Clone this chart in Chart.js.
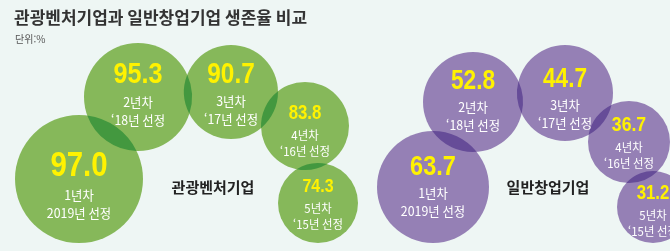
<!DOCTYPE html>
<html lang="ko">
<head>
<meta charset="UTF-8">
<title>관광벤처기업과 일반창업기업 생존율 비교</title>
<script src="https://cdn.jsdelivr.net/npm/chart.js"></script>
<style>
  html, body { margin: 0; padding: 0; background: #eef6f4; }
  #wrap { position: relative; width: 670px; height: 251px; }
  canvas { display: block; }
</style>
</head>
<body>
<div id="wrap"><canvas id="bubbles" width="670" height="251"></canvas></div>
<script>
// survival rate (%) by year since selection
const groups = ['관광벤처기업', '일반창업기업'];
const yearLabels = ['1년차', '2년차', '3년차', '4년차', '5년차'];
const cohortLabels = ['2019년 선정', '‘18년 선정', '‘17년 선정', '‘16년 선정', '‘15년 선정'];
const ventureRates = [97.0, 95.3, 90.7, 83.8, 74.3];
const startupRates = [63.7, 52.8, 44.7, 36.7, 31.2];

// bubble layout (picture is a free arrangement, not a plotted axis)
const ventureX = [79, 138, 231, 305, 318];
const ventureY = [179, 97, 92, 126, 203];
const ventureR = [64, 54, 47, 44, 40];
const startupX = [433, 473, 565, 629, 653];
const startupY = [187, 102, 93, 142, 207];
const startupR = [56, 50, 48, 41, 36];

// label styling per bubble: value font size, value offset from centre
const ventureFont = [35, 30, 29, 20, 19];
const ventureShift = [-13, -22, -17, -13, -16];
const startupFont = [28, 27, 27, 21, 20];
const startupShift = [-20, -20, -13, -17, -14];

const fillColors = ['#86b85a', '#9580b5'];
const overlapColors = ['#43983f', '#664c98'];
const radii = [ventureR, startupR];

function points(xs, ys, rs) {
    return xs.map((x, i) => ({ x: x, y: ys[i], r: rs[i] }));
}

// lens shaped region shared by two circles
function lens(ctx, ax, ay, ar, bx, by, br) {
    const dx = bx - ax, dy = by - ay;
    const d = Math.sqrt(dx * dx + dy * dy);
    if (d >= ar + br || d <= Math.abs(ar - br)) return false;
    const ta = Math.atan2(dy, dx);
    const tb = ta + Math.PI;
    const aa = Math.acos((d * d + ar * ar - br * br) / (2 * d * ar));
    const ab = Math.acos((d * d + br * br - ar * ar) / (2 * d * br));
    ctx.beginPath();
    ctx.arc(ax, ay, ar, ta - aa, ta + aa);
    ctx.arc(bx, by, br, tb - ab, tb + ab);
    ctx.closePath();
    return true;
}

// darker lens where two bubbles of one group overlap
const overlapPlugin = {
    id: 'overlap',
    afterDatasetsDraw(chart) {
        const ctx = chart.ctx;
        ctx.save();
        for (let d = 0; d < 2; d++) {
            const els = chart.getDatasetMeta(d).data;
            const rs = radii[d];
            ctx.fillStyle = overlapColors[d];
            for (let i = 0; i < els.length; i++) {
                for (let j = i + 1; j < els.length; j++) {
                    if (lens(ctx, els[i].x, els[i].y, rs[i], els[j].x, els[j].y, rs[j])) {
                        ctx.fill();
                    }
                }
            }
        }
        ctx.restore();
    }
};

// condensed text: squeeze horizontally around the anchor
function narrowText(ctx, text, x, y, squeeze) {
    ctx.save();
    ctx.translate(x, y);
    ctx.scale(squeeze, 1);
    ctx.fillText(text, 0, 0);
    ctx.restore();
}

// numbers, year and cohort text inside each bubble + group names + title
const labelPlugin = {
    id: 'labels',
    afterDraw(chart) {
        const ctx = chart.ctx;
        ctx.save();
        ctx.textAlign = 'center';
        ctx.textBaseline = 'middle';
        chart.data.datasets.forEach((ds, d) => {
            const els = chart.getDatasetMeta(d).data;
            els.forEach((el, i) => {
                const vf = ds.valueFont[i];
                const vy = el.y + ds.valueShift[i];
                const sf = vf >= 24 ? 13 : 12;
                ctx.fillStyle = '#fff200';
                ctx.font = 'bold ' + vf + 'px "Liberation Sans", sans-serif';
                narrowText(ctx, ds.rates[i].toFixed(1), el.x, vy, 0.84);
                ctx.fillStyle = '#ffffff';
                ctx.font = sf + 'px "Noto Sans CJK KR", sans-serif';
                const l1 = vy + vf * 0.5 + 12;
                narrowText(ctx, yearLabels[i], el.x, l1, 0.95);
                narrowText(ctx, cohortLabels[i], el.x, l1 + (sf >= 13 ? 18 : 16), 0.95);
            });
        });

        ctx.fillStyle = '#222';
        ctx.font = 'bold 15px "Noto Sans CJK KR", sans-serif';
        ctx.fillText(groups[0], 213, 187);
        ctx.fillText(groups[1], 548, 187);

        ctx.textAlign = 'left';
        ctx.fillStyle = '#333';
        ctx.font = 'bold 17px "Noto Sans CJK KR", sans-serif';
        ctx.fillText('관광벤처기업과 일반창업기업 생존율 비교', 14, 18);
        ctx.fillStyle = '#555';
        ctx.font = '10px "Noto Sans CJK KR", sans-serif';
        ctx.fillText('단위:%', 15, 39);
        ctx.restore();
    }
};

const ctx = document.getElementById('bubbles').getContext('2d');
new Chart(ctx, {
    type: 'bubble',
    data: {
        datasets: [{
            label: groups[0],
            data: points(ventureX, ventureY, ventureR),
            rates: ventureRates,
            valueFont: ventureFont,
            valueShift: ventureShift,
            backgroundColor: fillColors[0],
            borderWidth: 0
        }, {
            label: groups[1],
            data: points(startupX, startupY, startupR),
            rates: startupRates,
            valueFont: startupFont,
            valueShift: startupShift,
            backgroundColor: fillColors[1],
            borderWidth: 0
        }]
    },
    options: {
        responsive: false,
        animation: false,
        layout: { padding: 0, autoPadding: false },
        plugins: { legend: { display: false }, tooltip: { enabled: false } },
        scales: {
            x: { type: 'linear', min: 0, max: 670, display: false },
            y: { type: 'linear', min: 0, max: 251, reverse: true, display: false }
        }
    },
    plugins: [overlapPlugin, labelPlugin]
});
</script>
</body>
</html>
